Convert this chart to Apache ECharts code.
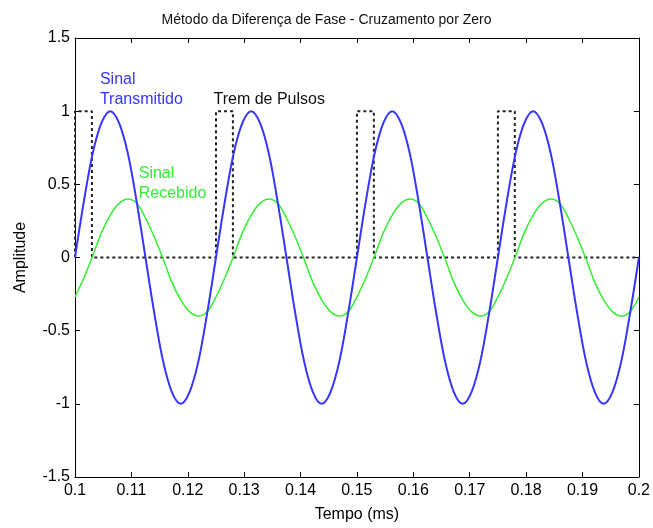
<!DOCTYPE html>
<html>
<head>
<meta charset="utf-8">
<script src="https://cdn.jsdelivr.net/npm/echarts@6/dist/echarts.min.js"></script>
<style>html,body{margin:0;padding:0;background:#fff}#c{width:653px;height:528px}</style>
</head>
<body>
<div id="c"></div>
<script>
// Time samples (ms)
const tempo = [0.1,0.10156,0.10313,0.10469,0.10625,0.10781,0.10938,0.11094,0.1125,0.11406,0.11563,0.11719,0.11875,0.12031,0.12188,0.12344,
0.125,0.12656,0.12813,0.12969,0.13125,0.13281,0.13438,0.13594,0.1375,0.13906,0.14063,0.14219,0.14375,0.14531,0.14688,0.14844,
0.15,0.15156,0.15313,0.15469,0.15625,0.15781,0.15938,0.16094,0.1625,0.16406,0.16563,0.16719,0.16875,0.17031,0.17188,0.17344,
0.175,0.17656,0.17813,0.17969,0.18125,0.18281,0.18438,0.18594,0.1875,0.18906,0.19063,0.19219,0.19375,0.19531,0.19688,0.19844,0.2];
// Transmitted signal
const transmitido = [0,0.38,0.71,0.92,1,0.92,0.71,0.38,0,-0.38,-0.71,-0.92,-1,-0.92,-0.71,-0.38,
0,0.38,0.71,0.92,1,0.92,0.71,0.38,0,-0.38,-0.71,-0.92,-1,-0.92,-0.71,-0.38,
0,0.38,0.71,0.92,1,0.92,0.71,0.38,0,-0.38,-0.71,-0.92,-1,-0.92,-0.71,-0.38,
0,0.38,0.71,0.92,1,0.92,0.71,0.38,0,-0.38,-0.71,-0.92,-1,-0.92,-0.71,-0.38,0];
// Received signal
const recebido = [-0.27,-0.14,0.01,0.17,0.29,0.37,0.40,0.37,0.27,0.14,-0.01,-0.17,-0.29,-0.37,-0.40,-0.37,
-0.27,-0.14,0.01,0.17,0.29,0.37,0.40,0.37,0.27,0.14,-0.01,-0.17,-0.29,-0.37,-0.40,-0.37,
-0.27,-0.14,0.01,0.17,0.29,0.37,0.40,0.37,0.27,0.14,-0.01,-0.17,-0.29,-0.37,-0.40,-0.37,
-0.27,-0.14,0.01,0.17,0.29,0.37,0.40,0.37,0.27,0.14,-0.01,-0.17,-0.29,-0.37,-0.40,-0.37,-0.27];
// Pulse train
const pulsoX = [0.1,0.1,0.103,0.103,0.125,0.125,0.128,0.128,0.15,0.15,0.153,0.153,0.175,0.175,0.178,0.178,0.2];
const pulsoY = [0,1,1,0,0,1,1,0,0,1,1,0,0,1,1,0,0];

const titulo = 'Método da Diferença de Fase - Cruzamento por Zero';
const nomeX = 'Tempo (ms)';
const nomeY = 'Amplitude';

const FONT = 'Liberation Sans, Arial, sans-serif';
const zip = (a, b) => a.map((v, i) => [v, b[i]]);

function lbl(text, coord, color) {
  return {
    coord: coord, symbol: 'circle', symbolSize: 0,
    label: { show: true, formatter: text, position: [0, 0], align: 'left', verticalAlign: 'middle',
      color: color, fontSize: 16, fontFamily: FONT }
  };
}

const tickCommon = { inside: true, length: 5, lineStyle: { color: '#000', width: 1 } };
const lineCommon = { show: true, onZero: false, lineStyle: { color: '#000', width: 1 } };

const chart = echarts.init(document.getElementById('c'), null, { renderer: 'canvas' });
chart.setOption({
  backgroundColor: '#fff',
  animation: false,
  title: { text: titulo, left: 'center', top: 8,
    textStyle: { fontSize: 14, fontWeight: 'normal', color: '#111', fontFamily: FONT } },
  grid: { left: 75, top: 38, width: 566, height: 442, containLabel: false },
  xAxis: [
    { type: 'value', min: 0.1, max: 0.2, interval: 0.01, position: 'bottom',
      name: nomeX, nameLocation: 'middle', nameGap: 30,
      nameTextStyle: { fontSize: 16, color: '#000', fontFamily: FONT },
      axisLine: lineCommon, axisTick: tickCommon, splitLine: { show: false },
      axisLabel: { fontSize: 16, color: '#000', margin: 6, fontFamily: FONT,
        formatter: v => String(+v.toFixed(2)) } },
    { type: 'value', min: 0.1, max: 0.2, interval: 0.01, position: 'top',
      axisLine: lineCommon, axisTick: tickCommon, splitLine: { show: false }, axisLabel: { show: false } }
  ],
  yAxis: [
    { type: 'value', min: -1.5, max: 1.5, interval: 0.5, position: 'left',
      name: nomeY, nameLocation: 'middle', nameGap: 46,
      nameTextStyle: { fontSize: 16, color: '#000', fontFamily: FONT },
      axisLine: lineCommon, axisTick: tickCommon, splitLine: { show: false },
      axisLabel: { fontSize: 16, color: '#000', margin: 5, fontFamily: FONT } },
    { type: 'value', min: -1.5, max: 1.5, interval: 0.5, position: 'right',
      axisLine: lineCommon, axisTick: tickCommon, splitLine: { show: false }, axisLabel: { show: false } }
  ],
  series: [
    { name: 'Trem de Pulsos', type: 'line', data: zip(pulsoX, pulsoY), showSymbol: false, symbol: 'none',
      lineStyle: { color: '#222', width: 2, type: [3, 3] }, z: 1,
      markPoint: { silent: true, data: [lbl('Trem de Pulsos', [0.12456, 1.078], '#111')] } },
    { name: 'Sinal Recebido', type: 'line', data: zip(tempo, recebido), showSymbol: false, symbol: 'none', smooth: 0.35,
      lineStyle: { color: '#33ee33', width: 1.5 }, z: 2,
      markPoint: { silent: true, data: [lbl('Sinal', [0.1113, 0.571], '#33ee33'), lbl('Recebido', [0.1113, 0.435], '#33ee33')] } },
    { name: 'Sinal Transmitido', type: 'line', data: zip(tempo, transmitido), showSymbol: false, symbol: 'none', smooth: 0.35,
      lineStyle: { color: '#3535ff', width: 2 }, z: 3,
      markPoint: { silent: true, data: [lbl('Sinal', [0.10442, 1.218], '#3535ff'), lbl('Transmitido', [0.10442, 1.078], '#3535ff')] } }
  ]
});
</script>
</body>
</html>
